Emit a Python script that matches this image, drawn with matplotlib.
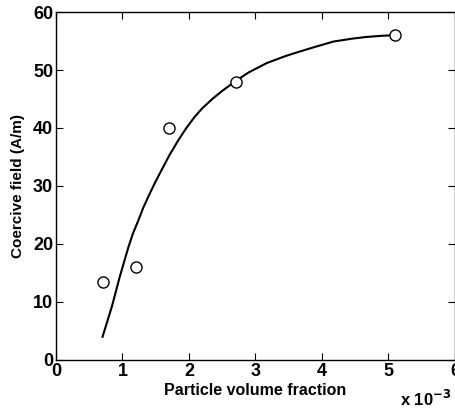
import matplotlib
matplotlib.use("Agg")
import matplotlib.pyplot as plt

plt.rcParams["font.family"] = ["Liberation Sans", "DejaVu Sans"]
plt.rcParams["font.weight"] = "bold"

# measured points (volume fraction in units of 1e-3, coercive field in A/m)
frac = [0.7, 1.2, 1.7, 2.7, 5.1]
field = [13.5, 16.0, 40.0, 48.0, 56.0]

# fitted trend curve
fit_frac = [0.70, 0.84, 0.96, 1.09, 1.16, 1.24, 1.31, 1.39, 1.49, 1.59,
            1.71, 1.84, 1.96, 2.09, 2.20, 2.35, 2.50, 2.69, 2.90, 3.17,
            3.45, 3.67, 3.90, 4.17, 4.45, 4.67, 4.90, 5.10]
fit_field = [4.0, 9.2, 14.4, 19.5, 21.9, 24.1, 26.2, 28.2, 30.6, 32.8,
             35.4, 37.9, 40.0, 42.0, 43.4, 45.0, 46.4, 48.0, 49.6, 51.2,
             52.4, 53.2, 54.0, 54.9, 55.4, 55.7, 55.9, 56.0]

xticks = [0, 1, 2, 3, 4, 5, 6]
yticks = [0, 10, 20, 30, 40, 50, 60]

fig = plt.figure(figsize=(4.56, 4.11), dpi=100)
ax = fig.add_axes([0.1228, 0.1241, 0.875, 0.8467])

ax.plot(fit_frac, fit_field, color="black", lw=1.5)
ax.plot(frac, field, "o", mfc="white", mec="black", ms=8, mew=1.0)

ax.set_xlim(0, 6)
ax.set_ylim(0, 60)
ax.set_xticks(xticks)
ax.set_yticks(yticks)
ax.set_xticklabels([str(t) for t in xticks])
ax.set_yticklabels([str(t) for t in yticks])
ax.tick_params(direction="in", top=True, right=True, length=5, width=0.8,
               labelsize=13, pad=2)
for s in ax.spines.values():
    s.set_linewidth(1.0)

ax.set_xlabel("Particle volume fraction", fontsize=11.5, fontweight="bold", labelpad=2)
ax.set_ylabel("Coercive field (A/m)", fontsize=11, fontweight="bold", labelpad=6)

fig.text(0.878, 0.012, r"x 10$^{\mathbf{-3}}$", fontsize=12, fontweight="bold")

fig.savefig("out.png", dpi=100)
